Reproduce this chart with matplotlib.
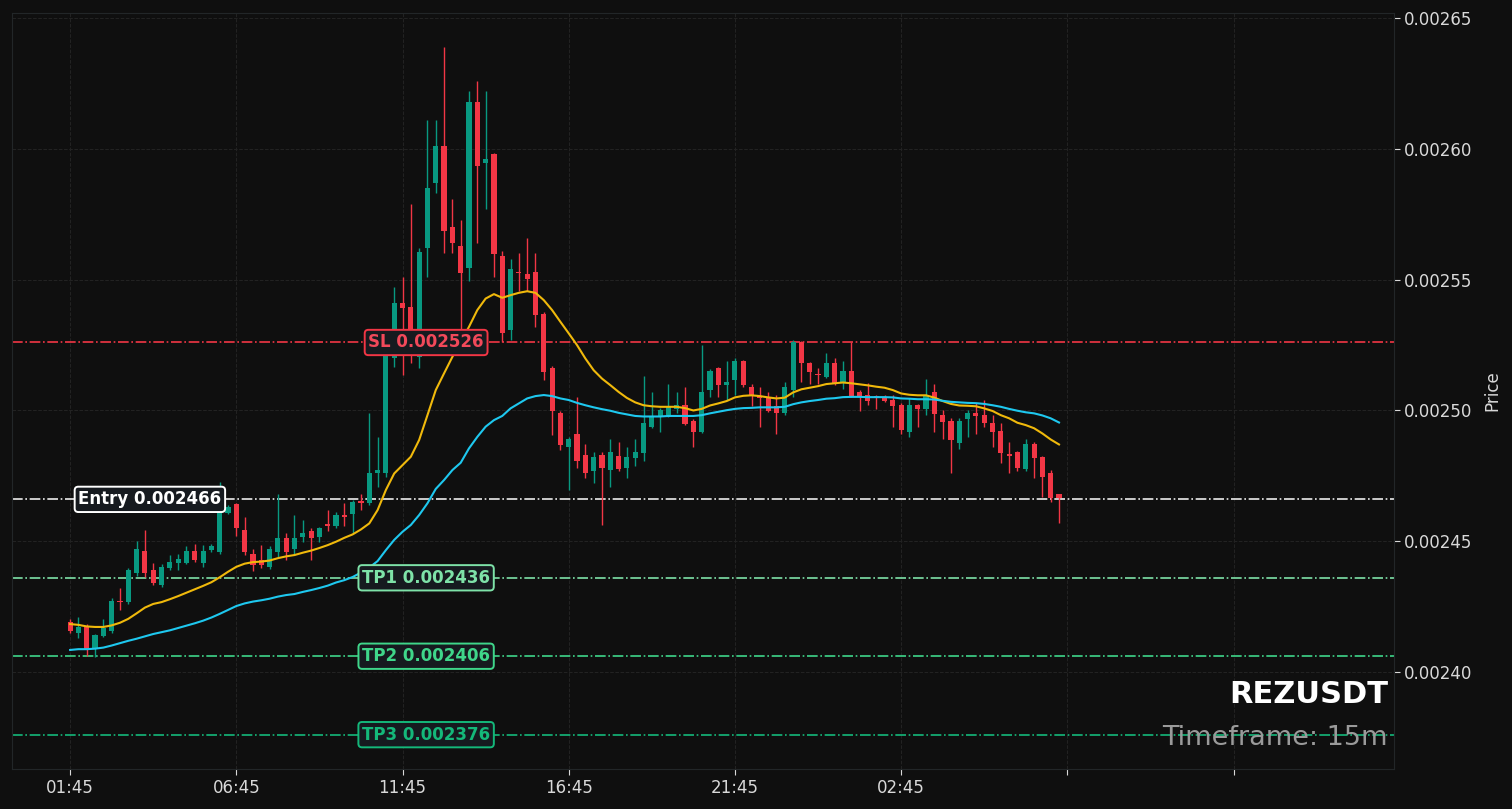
import matplotlib

matplotlib.use('Agg')
import numpy as np
import matplotlib.pyplot as plt
import matplotlib.ticker as ticker

# candle data, prices in 1e-6 USDT (15m candles from 01:45)
opens = [2419.1, 2414.9, 2417.2, 2409.2, 2413.7, 2415.7, 2427.1, 2426.7, 2437.8, 2446.2,
         2439.0, 2433.2, 2439.7, 2441.6, 2441.6, 2446.2, 2441.6, 2446.6, 2445.8, 2460.8,
         2464.2, 2454.3, 2445.1, 2442.8, 2440.1, 2445.8, 2451.2, 2447.0, 2451.6, 2453.9,
         2451.6, 2456.2, 2455.8, 2460.0, 2460.4, 2465.0, 2464.6, 2476.1, 2476.1, 2520.0,
         2541.0, 2539.5, 2520.4, 2562.1, 2586.9, 2601.1, 2570.1, 2562.8, 2554.4, 2617.9,
         2594.6, 2598.0, 2559.0, 2530.7, 2552.9, 2552.1, 2552.9, 2536.8, 2516.2, 2499.0,
         2486.0, 2491.0, 2483.0, 2476.8, 2483.0, 2477.2, 2482.6, 2478.0, 2481.8, 2483.7,
         2493.6, 2497.5, 2498.2, 2500.5, 2502.0, 2495.9, 2491.7, 2507.8, 2516.2, 2509.7,
         2511.6, 2518.9, 2508.9, 2505.5, 2504.7, 2501.7, 2499.0, 2507.8, 2526.1, 2518.1,
         2514.0, 2512.8, 2518.1, 2510.5, 2515.0, 2507.0, 2505.9, 2505.1, 2505.1, 2504.0,
         2502.0, 2491.7, 2502.0, 2500.5, 2507.0, 2498.2, 2495.9, 2487.5, 2496.7, 2499.0,
         2498.2, 2495.2, 2492.1, 2483.0, 2484.1, 2477.6, 2487.1, 2482.2, 2476.1, 2468.0]
highs = [2420.2, 2421.0, 2418.3, 2414.5, 2420.2, 2428.3, 2432.1, 2439.7, 2450.1, 2454.3,
         2441.6, 2441.3, 2444.7, 2445.1, 2448.1, 2448.9, 2448.5, 2448.9, 2472.6, 2463.8,
         2464.6, 2459.2, 2447.0, 2448.5, 2448.1, 2468.0, 2453.1, 2460.0, 2458.1, 2455.0,
         2455.4, 2461.9, 2461.1, 2464.6, 2465.7, 2468.0, 2499.0, 2489.8, 2525.8, 2547.2,
         2551.0, 2578.9, 2562.1, 2611.0, 2611.0, 2638.9, 2580.8, 2572.8, 2622.1, 2625.9,
         2622.1, 2598.4, 2560.9, 2557.9, 2560.2, 2565.9, 2560.2, 2537.6, 2517.0, 2499.8,
         2489.8, 2505.1, 2487.1, 2484.1, 2484.1, 2489.1, 2487.9, 2486.0, 2489.1, 2513.2,
         2507.0, 2500.9, 2510.1, 2507.0, 2508.9, 2496.7, 2525.0, 2515.8, 2516.6, 2518.9,
         2520.0, 2519.3, 2510.1, 2508.9, 2507.0, 2505.9, 2510.9, 2526.9, 2526.5, 2518.5,
         2516.2, 2521.8, 2520.0, 2518.9, 2526.1, 2507.8, 2510.5, 2505.9, 2505.9, 2505.9,
         2502.8, 2504.7, 2502.4, 2512.0, 2510.1, 2500.1, 2497.1, 2497.1, 2500.1, 2502.8,
         2504.0, 2498.2, 2495.2, 2487.9, 2484.5, 2489.1, 2487.9, 2482.6, 2477.2, 2468.0]
lows = [2414.9, 2413.0, 2406.1, 2405.7, 2413.4, 2414.9, 2423.7, 2426.0, 2436.7, 2436.3,
        2433.2, 2432.5, 2439.0, 2439.0, 2441.3, 2442.0, 2440.1, 2445.8, 2445.1, 2460.4,
        2452.0, 2444.7, 2438.6, 2439.7, 2439.4, 2443.9, 2442.8, 2444.7, 2449.7, 2442.8,
        2449.7, 2453.9, 2455.0, 2455.8, 2453.1, 2461.9, 2463.8, 2470.7, 2474.5, 2516.6,
        2513.5, 2518.1, 2516.2, 2551.0, 2583.1, 2560.2, 2560.2, 2530.7, 2549.6, 2564.0,
        2577.0, 2551.0, 2526.1, 2526.9, 2545.6, 2545.6, 2531.9, 2511.6, 2490.6, 2484.8,
        2469.6, 2478.0, 2474.1, 2472.2, 2456.2, 2470.7, 2476.8, 2474.1, 2478.7, 2480.7,
        2493.3, 2491.7, 2497.5, 2499.0, 2494.4, 2486.0, 2491.3, 2505.1, 2505.1, 2504.0,
        2505.9, 2508.9, 2501.7, 2493.6, 2499.4, 2491.0, 2498.2, 2505.1, 2510.9, 2510.1,
        2510.1, 2512.4, 2509.7, 2508.2, 2505.1, 2499.8, 2502.0, 2500.5, 2503.2, 2493.6,
        2491.0, 2489.8, 2493.6, 2498.2, 2491.7, 2489.1, 2476.1, 2485.2, 2489.8, 2491.0,
        2493.6, 2486.0, 2479.9, 2476.1, 2476.8, 2476.8, 2474.1, 2466.9, 2465.0, 2456.9]
closes = [2415.7, 2417.2, 2408.4, 2414.1, 2416.8, 2427.1, 2426.7, 2439.0, 2447.0, 2437.8,
          2434.0, 2440.1, 2442.0, 2443.2, 2446.2, 2442.8, 2446.2, 2448.1, 2461.5, 2463.1,
          2455.0, 2445.8, 2440.9, 2440.9, 2447.0, 2451.2, 2445.8, 2451.2, 2453.1, 2451.2,
          2455.0, 2455.8, 2460.0, 2459.2, 2465.0, 2464.6, 2476.1, 2477.2, 2523.8, 2541.0,
          2539.1, 2530.7, 2560.5, 2585.0, 2601.1, 2568.6, 2564.0, 2552.5, 2617.9, 2593.4,
          2596.1, 2559.8, 2529.6, 2554.0, 2552.5, 2550.2, 2536.5, 2514.7, 2499.8, 2486.8,
          2489.1, 2480.7, 2476.1, 2482.2, 2478.0, 2484.1, 2477.6, 2482.2, 2484.1, 2495.2,
          2497.5, 2500.1, 2501.3, 2502.0, 2494.8, 2491.7, 2507.0, 2515.0, 2509.7, 2510.9,
          2518.9, 2509.7, 2505.9, 2504.7, 2499.8, 2499.0, 2508.9, 2526.1, 2518.1, 2514.7,
          2513.5, 2518.1, 2510.5, 2515.0, 2505.5, 2505.5, 2503.6, 2504.9, 2503.6, 2501.7,
          2492.5, 2502.0, 2500.5, 2505.5, 2498.6, 2495.6, 2488.7, 2495.9, 2499.0, 2497.8,
          2495.2, 2491.7, 2483.7, 2482.6, 2478.0, 2487.1, 2481.8, 2474.5, 2466.5, 2466.5]

# moving averages (yellow = fast, cyan = slow)
ma_fast = [2418.3, 2418.0, 2417.4, 2417.2, 2417.2, 2417.8, 2418.8, 2420.3, 2422.4, 2424.6,
           2426.0, 2426.7, 2427.8, 2429.0, 2430.3, 2431.6, 2432.9, 2434.3, 2436.2, 2438.3,
           2440.2, 2441.4, 2442.0, 2442.2, 2442.6, 2443.5, 2444.2, 2444.7, 2445.6, 2446.4,
           2447.4, 2448.5, 2449.8, 2451.3, 2452.6, 2454.5, 2456.8, 2461.9, 2469.6, 2475.9,
           2479.1, 2482.3, 2488.7, 2498.2, 2507.8, 2514.2, 2520.5, 2526.3, 2532.0, 2538.4,
           2542.8, 2544.5, 2543.1, 2544.1, 2545.0, 2545.6, 2545.0, 2542.2, 2538.4, 2533.9,
           2529.5, 2525.0, 2519.9, 2515.4, 2512.2, 2509.7, 2507.1, 2504.8, 2503.1, 2502.0,
           2501.6, 2501.4, 2501.4, 2501.4, 2500.9, 2500.0, 2500.6, 2501.9, 2502.7, 2503.6,
           2505.0, 2505.6, 2505.8, 2505.5, 2505.0, 2504.6, 2504.9, 2506.9, 2508.1, 2508.7,
           2509.3, 2510.1, 2510.4, 2510.7, 2510.4, 2510.0, 2509.6, 2509.1, 2508.7, 2507.8,
           2506.5, 2506.0, 2505.8, 2505.8, 2504.9, 2503.6, 2502.5, 2501.9, 2501.8, 2501.6,
           2500.8, 2499.8, 2498.2, 2497.0, 2495.3, 2494.4, 2493.2, 2491.2, 2488.9, 2487.0]
ma_slow = [2408.4, 2408.7, 2408.7, 2408.9, 2409.3, 2410.1, 2411.0, 2411.9, 2412.7, 2413.6,
           2414.5, 2415.2, 2415.9, 2416.8, 2417.7, 2418.6, 2419.6, 2420.8, 2422.2, 2423.7,
           2425.2, 2426.2, 2426.9, 2427.4, 2428.0, 2428.8, 2429.4, 2429.8, 2430.6, 2431.3,
           2432.1, 2433.0, 2434.2, 2435.1, 2436.3, 2438.0, 2439.9, 2442.4, 2446.6, 2450.5,
           2453.6, 2456.2, 2460.0, 2464.5, 2470.0, 2473.4, 2477.2, 2480.0, 2485.5, 2489.9,
           2493.8, 2496.3, 2497.9, 2500.8, 2502.7, 2504.6, 2505.5, 2505.9, 2505.5, 2504.6,
           2504.0, 2502.9, 2502.0, 2501.2, 2500.5, 2499.9, 2499.1, 2498.5, 2497.9, 2497.7,
           2497.7, 2497.7, 2497.9, 2497.9, 2497.9, 2497.9, 2498.2, 2498.9, 2499.5, 2500.1,
           2500.6, 2500.9, 2501.0, 2501.2, 2501.2, 2501.2, 2501.4, 2502.4, 2503.1, 2503.6,
           2504.0, 2504.5, 2504.7, 2505.1, 2505.2, 2505.2, 2505.1, 2505.1, 2505.1, 2505.0,
           2504.6, 2504.5, 2504.3, 2504.3, 2504.2, 2503.7, 2503.3, 2503.1, 2502.9, 2502.8,
           2502.5, 2502.0, 2501.4, 2500.6, 2499.9, 2499.3, 2498.9, 2498.1, 2497.0, 2495.4]

tick_labels = ['01:45', '06:45', '11:45', '16:45', '21:45', '02:45', '', '']

entry = 0.002466
stop_loss = 0.002526
targets = [0.002436, 0.002406, 0.002376]

symbol = 'REZUSDT'
timeframe = '15m'

bg = '#0f0f0f'
up_color = '#089981'
down_color = '#f23645'
tp_colors = ['#7ee2a8', '#3fd68a', '#14b87a']

o = np.array(opens) * 1e-6
h = np.array(highs) * 1e-6
l = np.array(lows) * 1e-6
c = np.array(closes) * 1e-6
n = len(o)
x = np.arange(n)

fig = plt.figure(figsize=(15.12, 8.09), dpi=100, facecolor=bg)
ax = fig.add_axes([0.0079, 0.0494, 0.9140, 0.9346])
ax.set_facecolor(bg)

# candles
cols = np.where(c >= o, up_color, down_color)
ax.vlines(x, l, h, colors=cols, linewidth=1.0, zorder=3)
body_bottom = np.minimum(o, c)
body_height = np.maximum(np.abs(c - o), 0.0000006)
ax.bar(x, body_height, bottom=body_bottom, width=0.62, color=cols, linewidth=0, zorder=4)

# moving averages
ax.plot(x, np.array(ma_fast) * 1e-6, color='#f0b90b', linewidth=1.5, zorder=5)
ax.plot(x, np.array(ma_slow) * 1e-6, color='#1ec8ef', linewidth=1.5, zorder=5)

# trade levels
label_box = dict(boxstyle='round,pad=0.22', facecolor='#161a1f', linewidth=1.4)
ax.axhline(entry, color='#ececec', linestyle='-.', linewidth=1.2, zorder=2)
ax.text(n * 0.08, entry, f'Entry {entry:.6f}', color='white', fontsize=12, fontweight='bold',
        ha='center', va='center', zorder=6, bbox=dict(label_box, edgecolor='white'))
ax.axhline(stop_loss, color=down_color, linestyle='-.', linewidth=1.2, zorder=2)
ax.text(n * 0.357, stop_loss, f'SL {stop_loss:.6f}', color='#f2495a', fontsize=12, fontweight='bold',
        ha='center', va='center', zorder=6, bbox=dict(label_box, edgecolor=down_color))
for k, tp in enumerate(targets):
    ax.axhline(tp, color=tp_colors[k], linestyle='-.', linewidth=1.2, zorder=2)
    ax.text(n * 0.357, tp, f'TP{k + 1} {tp:.6f}', color=tp_colors[k], fontsize=12, fontweight='bold',
            ha='center', va='center', zorder=6, bbox=dict(label_box, edgecolor=tp_colors[k]))

# limits
lo = min(l.min(), min(targets))
hi = max(h.max(), stop_loss)
pad = (hi - lo) * 0.05
ax.set_ylim(lo - pad, hi + pad)
ax.set_xlim(-7, n + 39.3)

# axes formatting
ax.yaxis.tick_right()
ax.yaxis.set_label_position('right')
ax.set_ylabel('Price', color='#d9d9d9', fontsize=12, labelpad=8)
ax.yaxis.set_major_locator(ticker.MultipleLocator(0.00005))
ax.yaxis.set_major_formatter(ticker.FormatStrFormatter('%.5f'))
ax.set_xticks(np.arange(0, 160, 20))
ax.set_xticklabels(tick_labels)
ax.tick_params(axis='both', colors='#d9d9d9', labelsize=12, length=4)
ax.grid(True, color='#232323', linestyle='--', linewidth=0.7, zorder=0)
for s in ax.spines.values():
    s.set_color('#222628')
    s.set_linewidth(0.8)

ax.text(0.9957, 0.098, symbol, transform=ax.transAxes, color='white', fontsize=22,
        fontweight='bold', ha='right', va='center', zorder=7)
ax.text(0.9957, 0.041, f'Timeframe: {timeframe}', transform=ax.transAxes, color='#9a9a9a',
        fontsize=19.5, ha='right', va='center', zorder=7)

fig.savefig('out.png', dpi=100, facecolor=bg)
